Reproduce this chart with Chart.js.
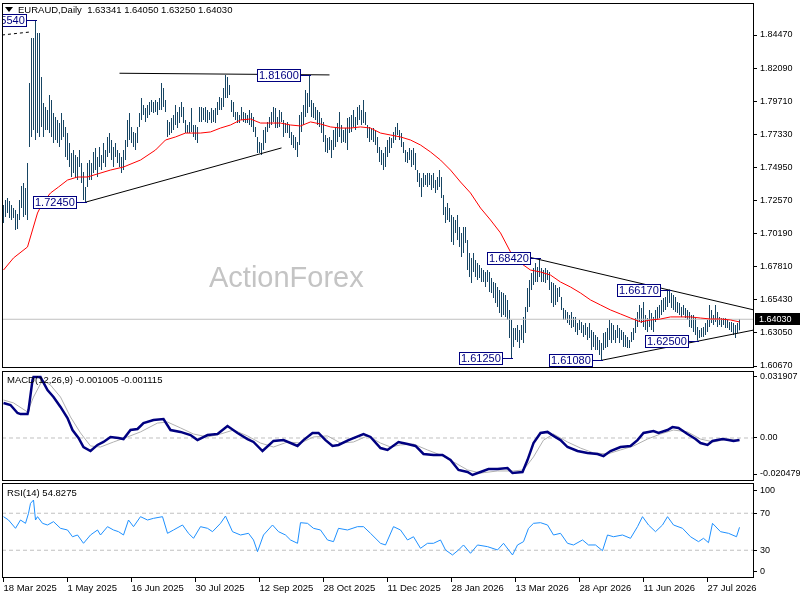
<!DOCTYPE html>
<html>
<head>
<meta charset="utf-8">
<script src="https://cdn.jsdelivr.net/npm/chart.js@4.4.1/dist/chart.umd.min.js"></script>
<style>
  html, body { margin: 0; padding: 0; background: #fff; }
  #wrap { position: relative; width: 800px; height: 600px; overflow: hidden; }
  canvas { position: absolute; left: 0; }
</style>
</head>
<body>
<div id="wrap">
  <canvas id="priceChart" width="800" height="373" style="top:0px"></canvas>
  <canvas id="macdChart" width="800" height="112" style="top:370px"></canvas>
  <canvas id="rsiChart" width="800" height="118" style="top:482px"></canvas>
</div>
<script>
// daily bars, index 0 = 18 Mar 2025
const highs = [
  1.7225,1.7261,1.7275,1.7254,1.7225,1.7203,1.7189,1.7160,1.7261,1.7361,
  1.7383,1.7347,1.7527,1.8102,1.8426,1.8426,1.8554,1.8461,1.8461,1.8145,
  1.7958,1.7929,1.7908,1.8016,1.7980,1.7886,1.7857,1.7836,1.7814,1.7886,
  1.7836,1.7786,1.7742,1.7671,1.7599,1.7620,1.7584,1.7570,1.7620,1.7527,
  1.7462,1.7354,1.7527,1.7548,1.7527,1.7606,1.7635,1.7570,1.7642,1.7584,
  1.7671,1.7620,1.7714,1.7742,1.7692,1.7642,1.7671,1.7620,1.7599,1.7570,
  1.7620,1.7692,1.7836,1.7886,1.7786,1.7750,1.7742,1.7786,1.7886,1.7994,
  1.7944,1.7922,1.7944,1.7966,1.7980,1.7966,1.7980,1.7966,1.7994,1.8102,
  1.8066,1.7980,1.7836,1.7822,1.7850,1.7872,1.7944,1.7893,1.7929,1.7966,
  1.7929,1.7836,1.7800,1.7822,1.7922,1.7800,1.7800,1.7786,1.7929,1.7929,
  1.7922,1.7929,1.7908,1.7893,1.7922,1.7908,1.7922,1.7966,1.8001,1.7994,
  1.8066,1.8160,1.8145,1.8088,1.7980,1.7966,1.7893,1.7893,1.7872,1.7929,
  1.7893,1.7886,1.7872,1.7908,1.7886,1.7857,1.7786,1.7714,1.7678,1.7671,
  1.7764,1.7786,1.7822,1.7857,1.7893,1.7929,1.7922,1.7857,1.7908,1.7893,
  1.7836,1.7814,1.7822,1.7800,1.7750,1.7728,1.7714,1.7678,1.7872,1.7893,
  1.7944,1.8052,1.8030,1.8160,1.7980,1.7958,1.7929,1.7908,1.7893,1.7850,
  1.7822,1.7728,1.7707,1.7714,1.7692,1.7764,1.7786,1.7814,1.7893,1.7800,
  1.7764,1.7778,1.7850,1.7857,1.7872,1.7908,1.7857,1.7929,1.7944,1.7908,
  1.7980,1.7893,1.7800,1.7786,1.7778,1.7778,1.7764,1.7714,1.7642,1.7620,
  1.7599,1.7642,1.7692,1.7714,1.7707,1.7750,1.7786,1.7814,1.7764,1.7742,
  1.7678,1.7620,1.7606,1.7635,1.7620,1.7635,1.7599,1.7476,1.7455,1.7419,
  1.7455,1.7440,1.7455,1.7455,1.7440,1.7455,1.7404,1.7426,1.7476,1.7426,
  1.7297,1.7210,1.7239,1.7203,1.7153,1.7139,1.7117,1.7153,1.7067,1.7024,
  1.7067,1.7067,1.6973,1.6880,1.6844,1.6880,1.6829,1.6808,1.6793,1.6772,
  1.6757,1.6743,1.6757,1.6743,1.6700,1.6671,1.6664,1.6635,1.6614,1.6599,
  1.6592,1.6578,1.6542,1.6470,1.6398,1.6340,1.6340,1.6362,1.6326,1.6362,
  1.6420,1.6491,1.6628,1.6685,1.6736,1.6772,1.6808,1.6779,1.6842,1.6772,
  1.6757,1.6772,1.6757,1.6743,1.6671,1.6664,1.6650,1.6628,1.6635,1.6563,
  1.6484,1.6470,1.6456,1.6434,1.6456,1.6420,1.6420,1.6376,1.6398,1.6384,
  1.6362,1.6376,1.6348,1.6376,1.6326,1.6312,1.6290,1.6276,1.6254,1.6233,
  1.6304,1.6312,1.6340,1.6398,1.6376,1.6362,1.6326,1.6362,1.6340,1.6326,
  1.6312,1.6290,1.6276,1.6254,1.6312,1.6340,1.6412,1.6456,1.6506,1.6484,
  1.6527,1.6434,1.6412,1.6470,1.6448,1.6420,1.6470,1.6491,1.6506,1.6542,
  1.6556,1.6563,1.6614,1.6617,1.6592,1.6578,1.6563,1.6527,1.6520,1.6491,
  1.6506,1.6484,1.6470,1.6456,1.6434,1.6434,1.6412,1.6348,1.6326,1.6340,
  1.6348,1.6376,1.6398,1.6506,1.6470,1.6434,1.6506,1.6456,1.6420,1.6412,
  1.6412,1.6412,1.6398,1.6384,1.6384,1.6376,1.6362,1.6376,1.6405
];
const lows = [
  1.7096,1.7139,1.7167,1.7131,1.7117,1.7131,1.7045,1.7052,1.7117,1.7203,
  1.7139,1.7153,1.7117,1.7642,1.7714,1.7764,1.7692,1.7742,1.7714,1.7786,
  1.7714,1.7764,1.7764,1.7742,1.7714,1.7671,1.7692,1.7671,1.7642,1.7692,
  1.7714,1.7570,1.7548,1.7498,1.7426,1.7455,1.7419,1.7404,1.7498,1.7383,
  1.7261,1.7245,1.7354,1.7404,1.7404,1.7455,1.7476,1.7426,1.7498,1.7476,
  1.7527,1.7498,1.7570,1.7599,1.7548,1.7498,1.7570,1.7527,1.7498,1.7455,
  1.7476,1.7548,1.7642,1.7692,1.7671,1.7642,1.7620,1.7671,1.7786,1.7836,
  1.7872,1.7822,1.7850,1.7872,1.7893,1.7886,1.7893,1.7872,1.7908,1.7908,
  1.7929,1.7893,1.7714,1.7728,1.7742,1.7764,1.7800,1.7778,1.7814,1.7857,
  1.7814,1.7742,1.7742,1.7742,1.7750,1.7714,1.7692,1.7671,1.7822,1.7822,
  1.7836,1.7822,1.7814,1.7836,1.7814,1.7822,1.7814,1.7872,1.7908,1.7908,
  1.7929,1.7994,1.7994,1.8016,1.7893,1.7857,1.7836,1.7814,1.7814,1.7836,
  1.7822,1.7814,1.7814,1.7800,1.7786,1.7750,1.7714,1.7599,1.7599,1.7584,
  1.7620,1.7671,1.7750,1.7778,1.7800,1.7822,1.7778,1.7778,1.7786,1.7822,
  1.7714,1.7742,1.7742,1.7707,1.7656,1.7635,1.7620,1.7570,1.7656,1.7750,
  1.7800,1.7857,1.7886,1.7929,1.7857,1.7850,1.7836,1.7800,1.7786,1.7742,
  1.7678,1.7606,1.7599,1.7620,1.7563,1.7620,1.7642,1.7678,1.7714,1.7671,
  1.7678,1.7671,1.7620,1.7742,1.7750,1.7786,1.7764,1.7800,1.7836,1.7800,
  1.7814,1.7800,1.7707,1.7678,1.7692,1.7678,1.7656,1.7599,1.7534,1.7512,
  1.7476,1.7498,1.7570,1.7599,1.7635,1.7671,1.7692,1.7728,1.7692,1.7642,
  1.7599,1.7534,1.7527,1.7548,1.7498,1.7512,1.7476,1.7390,1.7354,1.7282,
  1.7354,1.7368,1.7354,1.7368,1.7333,1.7347,1.7311,1.7333,1.7354,1.7275,
  1.7153,1.7096,1.7117,1.7103,1.6959,1.6937,1.7024,1.6973,1.6923,1.6851,
  1.6880,1.6952,1.6757,1.6707,1.6664,1.6743,1.6707,1.6685,1.6700,1.6671,
  1.6671,1.6635,1.6671,1.6599,1.6592,1.6556,1.6520,1.6491,1.6448,1.6420,
  1.6434,1.6420,1.6398,1.6268,1.6125,1.6204,1.6254,1.6240,1.6197,1.6254,
  1.6233,1.6304,1.6456,1.6491,1.6614,1.6650,1.6671,1.6671,1.6707,1.6671,
  1.6671,1.6664,1.6685,1.6614,1.6520,1.6491,1.6506,1.6527,1.6563,1.6470,
  1.6398,1.6398,1.6376,1.6362,1.6340,1.6348,1.6312,1.6290,1.6326,1.6304,
  1.6276,1.6290,1.6254,1.6268,1.6182,1.6204,1.6182,1.6182,1.6146,1.6108,
  1.6182,1.6197,1.6204,1.6254,1.6233,1.6254,1.6233,1.6268,1.6233,1.6254,
  1.6204,1.6204,1.6197,1.6197,1.6240,1.6254,1.6304,1.6348,1.6384,1.6376,
  1.6348,1.6326,1.6312,1.6348,1.6326,1.6312,1.6384,1.6398,1.6412,1.6434,
  1.6456,1.6470,1.6491,1.6520,1.6484,1.6470,1.6456,1.6448,1.6434,1.6420,
  1.6434,1.6412,1.6398,1.6348,1.6340,1.6312,1.6290,1.6250,1.6268,1.6276,
  1.6276,1.6290,1.6312,1.6348,1.6376,1.6362,1.6384,1.6348,1.6362,1.6348,
  1.6362,1.6340,1.6340,1.6326,1.6312,1.6290,1.6268,1.6304,1.6325
];

// red moving average, read at these bar positions
const maAt = [0,5,12,14.5,17,19.5,23.5,27.5,32,37,42,47,53.5,60,68.5,76,81,86,91,98.5,
  103.5,108.5,113.5,118.5,123.5,128.5,133.5,138.5,143.5,148.5,153.5,158.5,163.5,168.5,173.5,178.5,183.5,188.5,193.5,198.5,
  203.5,208.5,213.5,218.5,223.5,228.5,233.5,238.5,243.5,248.5,253.5,258.5,263.5,268.5,273.5,278.5,283.5,288.5,293.5,298.5,
  303.5,308.5,313.5,318.5,323.5,328.5,333.5,338.5,343.5,348.5,353.5,358.5,363.5,368];
const maVal = [1.6757,1.6844,1.6923,1.7045,1.7167,1.7239,1.7311,1.7354,1.7404,1.7426,
  1.7426,1.7448,1.7476,1.7498,1.7548,1.7620,1.7692,1.7714,1.7742,1.7742,
  1.7750,1.7778,1.7800,1.7836,1.7843,1.7814,1.7814,1.7814,1.7800,1.7793,
  1.7822,1.7807,1.7786,1.7778,1.7778,1.7786,1.7778,1.7742,1.7728,1.7714,
  1.7692,1.7656,1.7606,1.7548,1.7476,1.7390,1.7311,1.7203,1.7117,1.7024,
  1.6887,1.6808,1.6757,1.6743,1.6721,1.6671,1.6635,1.6592,1.6542,1.6506,
  1.6470,1.6441,1.6412,1.6384,1.6398,1.6405,1.6420,1.6420,1.6420,1.6412,
  1.6405,1.6405,1.6398,1.6384];

// MACD main and signal
const macdAt = [0,3.5,7,8.5,12,12.5,14.5,15,18.5,22,25,28.5,32,34.5,37.5,40,43.5,47,50,53.5,
  57.5,60,63.5,67,70,75,80,83.5,88.5,93.5,97,102,107,112,117,122,125,129.5,135,140,
  147,150,154.5,157.5,161,164.5,167.5,172.5,180,183.5,188.5,192,197.5,202,206,210,215,219.5,223.5,227.5,
  232,234.5,238.5,242.5,247,252,254.5,259.5,262,265,268.5,272,275,278.5,282,287,292,297,300,303.5,
  308.5,313.5,317,320,325,327.5,332,334.5,337.5,342,346,348.5,352,354.5,359.5,362.5,365,368];
const macdVal = [0.0167,0.0157,0.0119,0.0114,0.0114,0.0133,0.0276,0.0290,0.0290,0.0228,
  0.0195,0.0148,0.0095,0.0038,0,-0.0043,-0.0062,-0.0033,-0.0019,0.0005,
  0,-0.0005,0.0038,0.0043,0.0071,0.0086,0.0090,0.0038,0.0029,0.0014,
  -0.0010,0.0014,0.0019,0.0057,0.0024,-0.0005,-0.0019,-0.0062,-0.0014,-0.0010,
  -0.0038,-0.0010,0.0024,0.0024,-0.0010,-0.0038,-0.0033,-0.0010,0.0019,0.0005,
  -0.0048,-0.0057,-0.0019,-0.0029,-0.0038,-0.0076,-0.0081,-0.0081,-0.0105,-0.0152,
  -0.0162,-0.0176,-0.0162,-0.0148,-0.0148,-0.0143,-0.0167,-0.0162,-0.0105,-0.0024,
  0.0024,0.0029,0.0010,-0.0010,-0.0043,-0.0062,-0.0071,-0.0076,-0.0086,-0.0062,
  -0.0043,-0.0038,-0.0010,0.0024,0.0033,0.0024,0.0038,0.0052,0.0048,0.0019,
  -0.0005,-0.0024,-0.0033,-0.0014,-0.0005,-0.0010,-0.0014,-0.0010];
const signalAt = [0,5,12,15,19.5,23.5,28.5,33.5,38.5,43.5,48.5,55,62,68.5,77,82,88.5,95,102,108.5,
  115,122,128.5,135,142,148.5,155,162,168.5,175,182,188.5,193.5,198.5,205,212,218.5,225,232,238.5,
  247,255,260,265,270,275,282,288.5,295,302,308.5,315,322,328.5,335,342,348.5,355,362,368];
const signalVal = [0.0181,0.0167,0.0124,0.0195,0.0276,0.0252,0.0195,0.0100,0.0024,-0.0038,
  -0.0043,-0.0019,0.0005,0.0029,0.0071,0.0076,0.0048,0.0019,0.0005,0.0019,
  0.0038,0.0010,-0.0024,-0.0043,-0.0019,-0.0024,0.0005,0.0010,-0.0024,-0.0019,
  0.0010,-0.0024,-0.0043,-0.0033,-0.0029,-0.0057,-0.0081,-0.0114,-0.0152,-0.0167,
  -0.0157,-0.0157,-0.0152,-0.0090,-0.0010,0.0019,-0.0019,-0.0048,-0.0071,-0.0076,
  -0.0057,-0.0038,-0.0005,0.0019,0.0038,0.0029,-0.0005,-0.0019,-0.0005,-0.0011];

// RSI(14)
const rsiAt = [0,2.5,6,8.5,11,12.5,13.5,15,16,17,19.5,22,25,28.5,32,34.5,37,40,43.5,47,
  48.5,52,55,57.5,60,62.5,65,68.5,72,75,79.5,82,85,89.5,92.5,95,98.5,102,104.5,108.5,
  111,114.5,118.5,122.5,125,127,130,134.5,137.5,141,143.5,147,148.5,152,155,158.5,162,165,167.5,172,
  177,180,183.5,188.5,191,195,198.5,202,205,208.5,212,215,218.5,221,224.5,227.5,230,233.5,237,242,
  247,250,254.5,257,260,262.5,265,268.5,272,275,278.5,282,285,289.5,292.5,296,299.5,302,305,309.5,
  313.5,317,319.5,322.5,326,329.5,332,335,339.5,343.5,347.5,350,352.5,354.5,358.5,362.5,366.5,368];
const rsiVal = [66.3,62.7,53.7,62.7,59.1,69.9,80.7,84.3,62.7,66.3,59.1,57.3,60.9,53.7,51.9,44.6,46.5,37.5,46.5,51.9,
  46.5,55.5,51.9,50.1,46.5,62.7,55.5,66.3,62.7,64.5,66.3,48.3,51.9,57.3,48.3,42.9,55.5,53.7,50.1,59.1,
  67.0,50.1,46.5,48.3,41.1,28.5,46.5,57.3,50.1,46.5,41.1,37.5,59.8,59.1,53.7,51.9,41.1,39.3,53.7,51.9,
  55.5,55.5,48.3,37.5,35.7,55.5,51.9,41.1,44.6,32.1,37.5,37.5,41.1,30.3,24.9,30.3,35.7,26.7,35.7,33.9,
  30.3,37.5,24.9,35.7,39.3,53.7,59.1,59.8,57.3,46.5,48.3,37.5,35.7,41.1,35.7,35.7,29.5,46.5,44.6,46.5,
  42.9,55.5,66.3,57.3,50.1,57.3,66.3,57.3,53.7,44.6,39.3,42.9,38.2,59.1,50.1,48.3,44.6,54.8];

// hand drawn trend lines (bar, price) -> (bar, price)
const lineStartBar = [58, 41, 263, 299];
const lineStartPrice = [1.8172, 1.7245, 1.6849, 1.6108];
const lineEndBar = [163, 139, 375.25, 375.25];
const lineEndPrice = [1.8160, 1.7635, 1.6470, 1.6326];
const dashStart = [-0.75, 1.8447];
const dashEnd = [13.5, 1.8469];

// swing labels
const swingBars = [16, 41, 153, 268, 254, 299, 333, 347];
const swingValues = [1.8554, 1.7245, 1.8160, 1.6842, 1.6125, 1.6108, 1.6617, 1.6250];

// axes
const priceTicks = [1.6067,1.6305,1.6543,1.6781,1.7019,1.7257,1.7495,1.7733,1.7971,1.8209,1.8447];
const macdTickAt = [-0.01715, 0, 0.02905];
const macdTickLabels = ['-0.020479', '0.00', '0.031907'];
const rsiTickAt = [6.5, 30, 70, 95.1];
const rsiTickLabels = ['0', '30', '70', '100'];
const rsiLevels = [30, 70];
const dateTickAt = [0,32,64,96,128,160,192,224,256,288,320,352];
const dateTickLabels = ['18 Mar 2025','1 May 2025','16 Jun 2025','30 Jul 2025','12 Sep 2025','28 Oct 2025',
  '11 Dec 2025','28 Jan 2026','13 Mar 2026','28 Apr 2026','11 Jun 2026','27 Jul 2026'];

const symbolName = 'EURAUD,Daily';
const lastOhlc = [1.63341, 1.64050, 1.63250, 1.64030];
const macdLast = [-0.001005, -0.001115];
const rsiLast = 54.8275;
const watermark = 'ActionForex';

const X_MIN = -0.75, X_MAX = 375.25;
const FONT = "'Liberation Sans', Arial, sans-serif";
const NAVY = '#000080';

Chart.defaults.font.family = FONT;
Chart.defaults.font.size = 9;
Chart.defaults.color = '#000';
Chart.defaults.animation = false;

function pts(xs, ys) {
  return xs.map((x, k) => ({ x: x, y: ys[k] }));
}

function flatLine(value, color, dash) {
  return {
    type: 'line', data: [{ x: X_MIN, y: value }, { x: X_MAX, y: value }],
    borderColor: color, borderWidth: 1, borderDash: dash || [], pointRadius: 0, order: 5
  };
}

function rightAxis(min, max, tickValues, labelFn) {
  return {
    position: 'right', min: min, max: max,
    afterFit: function (scale) {
      scale.width = 46;
      scale.paddingTop = 0;
      scale.paddingBottom = 0;
    },
    afterBuildTicks: function (scale) { scale.ticks = tickValues.map(v => ({ value: v })); },
    ticks: { callback: labelFn, padding: 3, font: { size: 9 } },
    grid: { drawOnChartArea: false, drawTicks: true, tickLength: 3, color: '#000' },
    border: { display: false }
  };
}

const hiddenX = { type: 'linear', min: X_MIN, max: X_MAX, offset: false, display: false };

const framePlugin = {
  id: 'frame',
  afterDraw(chart) {
    const a = chart.chartArea;
    const ctx = chart.ctx;
    ctx.save();
    ctx.strokeStyle = '#000';
    ctx.lineWidth = 1;
    ctx.strokeRect(a.left + 0.5, a.top + 0.5, a.right - a.left - 1, a.bottom - a.top - 1);
    ctx.restore();
  }
};

function titlePlugin(text, y) {
  return {
    id: 'title_' + y,
    afterDraw(chart) {
      const ctx = chart.ctx;
      ctx.save();
      ctx.font = '9.5px ' + FONT;
      ctx.fillStyle = '#000';
      ctx.textBaseline = 'middle';
      ctx.fillText(text, 7, y);
      ctx.restore();
    }
  };
}

const annotatePlugin = {
  id: 'annotate',
  beforeDatasetsDraw(chart) {
    const ctx = chart.ctx;
    ctx.save();
    ctx.font = '29px ' + FONT;
    ctx.fillStyle = '#c4c4c4';
    ctx.textBaseline = 'alphabetic';
    ctx.fillText(watermark, 209, 287);
    ctx.restore();
  },
  afterDatasetsDraw(chart) {
    const ctx = chart.ctx;
    const a = chart.chartArea;
    const xs = chart.scales.x, ys = chart.scales.y;
    ctx.save();
    ctx.beginPath();
    ctx.rect(a.left, a.top, a.right - a.left, a.bottom - a.top);
    ctx.clip();
    ctx.font = '11px ' + FONT;
    ctx.textBaseline = 'middle';
    ctx.lineWidth = 1;
    swingValues.forEach(function (v, k) {
      const bx = Math.round(xs.getPixelForValue(swingBars[k]));
      const by = Math.round(ys.getPixelForValue(v)) + 0.5;
      const txt = v.toFixed(5);
      const w = Math.ceil(ctx.measureText(txt).width) + 4;
      const right = bx - 9;
      ctx.fillStyle = '#fff';
      ctx.fillRect(right - w, by - 6.5, w, 13);
      ctx.strokeStyle = NAVY;
      ctx.strokeRect(right - w + 0.5, by - 6, w - 1, 12);
      ctx.beginPath();
      ctx.moveTo(right, by);
      ctx.lineTo(bx + 1, by);
      ctx.stroke();
      ctx.fillStyle = NAVY;
      ctx.fillText(txt, right - w + 2, by + 0.5);
    });
    ctx.restore();
  },
  afterDraw(chart) {
    const ctx = chart.ctx;
    const ys = chart.scales.y;
    ctx.save();
    // header
    ctx.fillStyle = '#000';
    ctx.beginPath();
    ctx.moveTo(5, 7); ctx.lineTo(13, 7); ctx.lineTo(9, 12); ctx.closePath();
    ctx.fill();
    ctx.font = '9.5px ' + FONT;
    ctx.textBaseline = 'middle';
    ctx.fillText(symbolName + '  ' + lastOhlc.map(v => v.toFixed(5)).join(' '), 18, 10);
    // last price tag
    const py = Math.round(ys.getPixelForValue(lastOhlc[3]));
    ctx.font = '9px ' + FONT;
    ctx.fillRect(755, py - 6, 45, 12);
    ctx.fillStyle = '#fff';
    ctx.fillText(lastOhlc[3].toFixed(5), 759, py + 0.5);
    ctx.restore();
  }
};

const trendSets = lineStartBar.map(function (b, k) {
  return {
    type: 'line',
    data: [{ x: b, y: lineStartPrice[k] }, { x: lineEndBar[k], y: lineEndPrice[k] }],
    borderColor: '#000', borderWidth: 1, pointRadius: 0, order: 1
  };
});

new Chart(document.getElementById('priceChart'), {
  type: 'bar',
  data: {
    datasets: [
      {
        type: 'bar',
        data: highs.map((h, i) => ({ x: i, y: [lows[i], h] })),
        backgroundColor: '#174563', barThickness: 1, inflateAmount: 0, borderWidth: 0, order: 10
      },
      flatLine(lastOhlc[3], '#c0c0c0'),
      {
        type: 'line', data: pts(maAt, maVal),
        borderColor: '#ff0000', borderWidth: 1, pointRadius: 0, order: 2
      },
      ...trendSets,
      {
        type: 'line', data: [{ x: dashStart[0], y: dashStart[1] }, { x: dashEnd[0], y: dashEnd[1] }],
        borderColor: '#000', borderWidth: 1, borderDash: [3, 3], pointRadius: 0, order: 1
      }
    ]
  },
  options: {
    responsive: false,
    events: [],
    layout: { padding: { top: 3, left: 2, bottom: 5, right: 0 } },
    plugins: { legend: { display: false }, tooltip: { enabled: false } },
    scales: {
      x: hiddenX,
      y: rightAxis(1.60527, 1.86771, priceTicks, v => v.toFixed(5))
    }
  },
  plugins: [framePlugin, annotatePlugin]
});

new Chart(document.getElementById('macdChart'), {
  type: 'line',
  data: {
    datasets: [
      flatLine(0, '#c0c0c0', [4, 3]),
      { data: pts(signalAt, signalVal), borderColor: '#b0b0b0', borderWidth: 1, pointRadius: 0, order: 2 },
      { data: pts(macdAt, macdVal), borderColor: NAVY, borderWidth: 2.5, pointRadius: 0, order: 1 }
    ]
  },
  options: {
    responsive: false,
    events: [],
    layout: { padding: { top: 1, left: 2, bottom: 1, right: 0 } },
    plugins: { legend: { display: false }, tooltip: { enabled: false } },
    scales: {
      x: hiddenX,
      y: rightAxis(-0.020479, 0.031907, macdTickAt, (v, i) => macdTickLabels[i])
    }
  },
  plugins: [framePlugin, titlePlugin('MACD(12,26,9) ' + macdLast.map(v => v.toFixed(6)).join(' '), 10)]
});

new Chart(document.getElementById('rsiChart'), {
  type: 'line',
  data: {
    datasets: [
      flatLine(rsiLevels[0], '#c0c0c0', [4, 3]),
      flatLine(rsiLevels[1], '#c0c0c0', [4, 3]),
      { data: pts(rsiAt, rsiVal), borderColor: '#1e90ff', borderWidth: 1, pointRadius: 0, order: 1 }
    ]
  },
  options: {
    responsive: false,
    events: [],
    layout: { padding: { top: 1, left: 2, bottom: 0, right: 0 } },
    plugins: { legend: { display: false }, tooltip: { enabled: false } },
    scales: {
      x: {
        type: 'linear', min: X_MIN, max: X_MAX, offset: false,
        afterFit: function (scale) {
          scale.height = 22;
          scale.paddingLeft = 0;
          scale.paddingRight = 0;
        },
        afterBuildTicks: function (scale) { scale.ticks = dateTickAt.map(v => ({ value: v })); },
        ticks: {
          autoSkip: false, maxRotation: 0, align: 'start', padding: 1, font: { size: 9.5 },
          callback: (v, i) => dateTickLabels[i]
        },
        grid: { drawOnChartArea: false, drawTicks: true, tickLength: 4, color: '#000' },
        border: { display: false }
      },
      y: rightAxis(0, 102.7, rsiTickAt, (v, i) => rsiTickLabels[i])
    }
  },
  plugins: [framePlugin, titlePlugin('RSI(14) ' + rsiLast.toFixed(4), 11)]
});
</script>
</body>
</html>
